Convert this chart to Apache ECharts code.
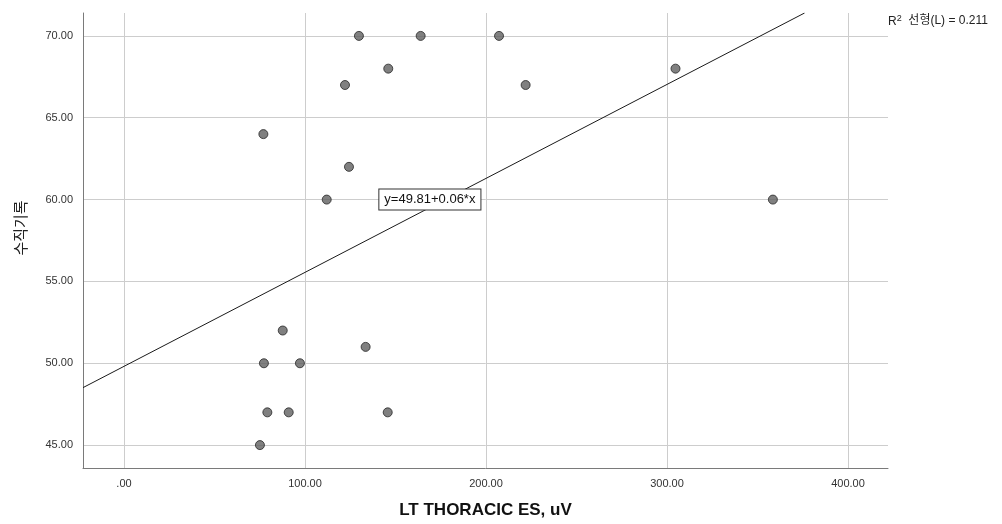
<!DOCTYPE html>
<html>
<head>
<meta charset="utf-8">
<script src="https://cdn.jsdelivr.net/npm/echarts@6/dist/echarts.min.js"></script>
<style>
html,body{margin:0;padding:0;background:#fff;}
#chart{width:1002px;height:524px;}
</style>
</head>
<body>
<div id="chart"></div>
<script>
// ---- data ----
const xValues = [129.8, 163.9, 207.2, 146.0, 304.7, 122.1, 221.9, 77.0, 124.3, 112.0, 358.5, 87.7, 133.5, 77.3, 97.2, 79.2, 91.0, 145.7, 75.1];
const yValues = [70, 70, 70, 68, 68, 67, 67, 64, 62, 60, 60, 52, 51, 50, 50, 47, 47, 47, 45];
const xTicks = [0, 100, 200, 300, 400];
const yTicks = [45, 50, 55, 60, 65, 70];
const fitLineX = [-22.65, 376];
const fitLineY = [48.51, 71.4];
const equationText = 'y=49.81+0.06*x';
const equationAt = [169, 60];
const r2Text = '0.211';
const xTitle = 'LT THORACIC ES, uV';
const yTitle = '수직기록';

const points = xValues.map((x, i) => [x, yValues[i]]);
const fitLine = fitLineX.map((x, i) => [x, fitLineY[i]]);
const fmt = v => (v === 0 ? '.00' : v.toFixed(2));
const FONT = '"Liberation Sans", Arial, "Noto Sans CJK KR", sans-serif';

const chart = echarts.init(document.getElementById('chart'), null, {renderer: 'canvas'});
chart.setOption({
  animation: false,
  backgroundColor: '#ffffff',
  grid: {left: 83, right: 114, top: 13, bottom: 54, containLabel: false},
  xAxis: {
    type: 'value',
    min: -22.65,
    max: 422.1,
    name: xTitle,
    nameLocation: 'middle',
    nameGap: 34,
    nameTextStyle: {fontFamily: FONT, fontSize: 17, fontWeight: 'bold', color: '#111'},
    axisLine: {show: true, onZero: false, lineStyle: {color: '#7a7a7a', width: 1}},
    axisTick: {show: false, customValues: xTicks},
    axisLabel: {customValues: xTicks, formatter: fmt, fontFamily: FONT, fontSize: 11, color: '#333', margin: 10},
    splitLine: {show: true, lineStyle: {color: '#cdcdcd', width: 1}}
  },
  yAxis: {
    type: 'value',
    min: 43.6,
    max: 71.4,
    axisLine: {show: true, onZero: false, lineStyle: {color: '#7a7a7a', width: 1}},
    axisTick: {show: false, customValues: yTicks},
    axisLabel: {customValues: yTicks, formatter: fmt, fontFamily: FONT, fontSize: 11, color: '#333', margin: 10},
    splitLine: {show: true, lineStyle: {color: '#cdcdcd', width: 1}}
  },
  graphic: [
    {
      type: 'text',
      left: 888,
      top: 14,
      style: {
        text: '{r|R}{s|2}{t|  선형(L) = ' + r2Text + '}',
        rich: {
          r: {fontFamily: FONT, fontSize: 12, fill: '#222', verticalAlign: 'bottom'},
          s: {fontFamily: FONT, fontSize: 9, fill: '#222', verticalAlign: 'top', padding: [0, 0, 5, 0]},
          t: {fontFamily: FONT, fontSize: 12, fill: '#222'}
        }
      }
    },
    {
      type: 'text',
      x: 20,
      y: 228,
      rotation: Math.PI / 2,
      style: {
        text: yTitle,
        fontFamily: '"Noto Sans CJK KR", sans-serif',
        fontSize: 15,
        fill: '#222',
        align: 'center',
        verticalAlign: 'middle'
      }
    }
  ],
  series: [
    {
      type: 'line',
      data: fitLine,
      symbol: 'none',
      silent: true,
      lineStyle: {color: '#1a1a1a', width: 1},
      markPoint: {
        symbol: 'rect',
        symbolSize: 0,
        data: [{coord: equationAt}],
        label: {
          show: true,
          position: 'inside',
          formatter: equationText,
          fontFamily: FONT,
          fontSize: 13,
          color: '#111',
          backgroundColor: '#fff',
          borderColor: '#333',
          borderWidth: 1,
          padding: [4, 5, 3, 5]
        }
      },
      z: 3
    },
    {
      type: 'scatter',
      data: points,
      symbol: 'circle',
      symbolSize: 9,
      itemStyle: {color: '#606060', borderColor: '#262626', borderWidth: 1},
      z: 4
    }
  ]
});
</script>
</body>
</html>
